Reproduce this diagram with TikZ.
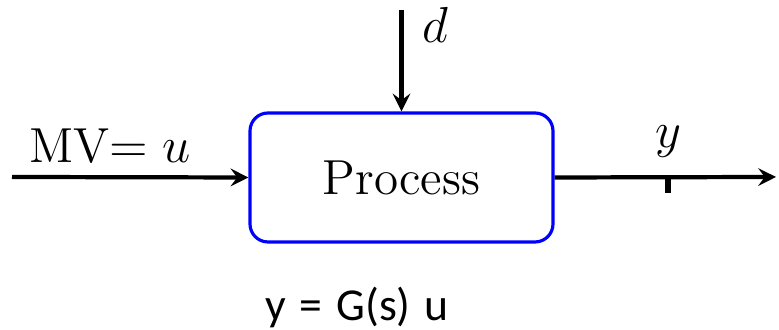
\documentclass[tikz,border=0pt]{standalone}
\usepackage{fontspec}
\newfontfamily\calibri{Carlito}
\usetikzlibrary{positioning}

\begin{document}
\begin{tikzpicture}[
    font=\fontsize{14}{17}\selectfont,
    block/.style={rectangle, rounded corners=0.18cm, draw=blue, line width=0.9pt, minimum width=3.03cm, minimum height=1.29cm},
    arrow/.style={line width=1.2pt, ->, >=stealth},
    lbl/.style={inner sep=0pt}
]
\useasboundingbox (0,0) rectangle (7.79,3.30);

% --- Nodes ---
\node (plant) at (4.015, 1.525) [block] {Process};
\coordinate (uin) at (0.12, 1.53);
\coordinate (yout) at (7.76, 1.53);
\coordinate (dist) at (4.015, 3.20);
\coordinate (meas) at (6.68, 1.53);

% labels
\node (ulbl) at (1.10, 1.84) [lbl] {$\mathrm{MV}{=}\;u$};
\node (ylbl) at (6.68, 1.88) [lbl] {$y$};
\node (dlbl) at (4.35, 3.05) [lbl] {$d$};
\node (tf) at (3.57, 0.23) [lbl, font=\calibri\fontsize{13}{15}\selectfont]
  {y\hspace{0.3em}=\hspace{0.3em}G(s)\hspace{0.3em}u};

% --- Edges ---
\draw [arrow] (uin) -- (plant.west);
\draw [arrow] (plant.east) -- (yout);
\draw [arrow] (dist) -- (plant.north);
\draw [line width=1.6pt] (meas) -- ++(0,-0.16);

\end{tikzpicture}
\end{document}
